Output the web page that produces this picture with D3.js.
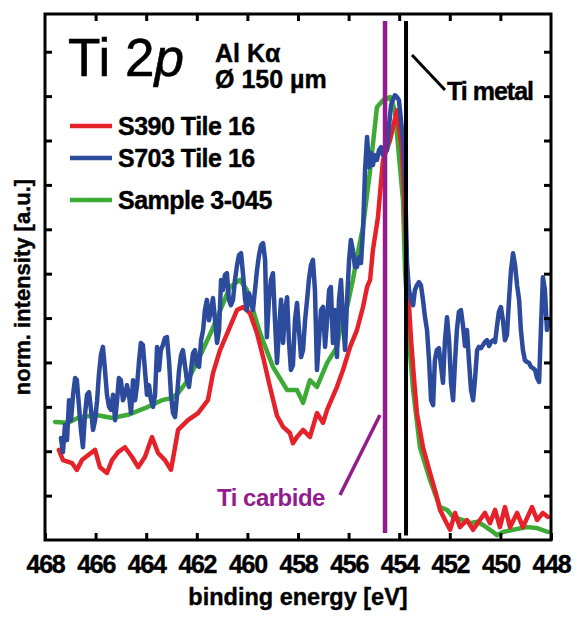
<!DOCTYPE html>
<html><head><meta charset="utf-8">
<script src="https://cdn.jsdelivr.net/npm/d3@7"></script>
<style>body{margin:0;background:#fff}svg text{font-family:"Liberation Sans",Arial,sans-serif}</style>
</head><body><svg id="c" width="585" height="619"></svg>
<script>
// ---------- data ----------
const xTickValues = [468,466,464,462,460,458,456,454,452,450,448];
const yTickValues = [1,2,3,4,5,6,7,8,9,10,11];
const seriesNames = ["S390 Tile 16","S703 Tile 16","Sample 3-045"];
const seriesColors = ["#e52229","#2d4b9c","#3caa35"];

const redEnergy = [467.45,467.29,466.93,466.74,466.54,466.30,466.02,465.83,465.55,465.35,465.11,464.84,464.56,464.32,464.05,463.77,463.53,463.26,463.02,462.86,462.74,462.35,461.95,461.56,461.36,461.08,460.69,460.41,460.17,459.90,459.62,459.38,459.11,458.83,458.59,458.32,458.20,458.04,457.80,457.53,457.25,457.01,456.85,456.46,456.22,455.94,455.67,455.43,455.27,455.15,455.04,454.84,454.64,454.36,454.09,453.89,453.77,453.65,453.53,453.41,453.30,453.06,452.78,452.51,452.39,452.19,451.99,451.79,451.60,451.32,451.08,450.81,450.61,450.41,450.21,450.02,449.82,449.62,449.34,449.11,448.75,448.55,448.32,448.12];
const redIntensity = [2.03,1.80,1.73,1.58,1.80,1.91,2.03,1.64,1.51,1.80,1.98,2.09,1.87,1.64,1.87,2.32,1.96,1.80,1.58,2.09,2.48,2.70,2.86,3.15,3.76,4.28,4.80,5.18,5.25,5.11,4.66,4.12,3.45,2.80,2.55,2.41,2.18,2.32,2.48,2.32,2.86,2.64,2.93,3.45,3.83,4.35,4.73,5.25,5.70,5.86,6.53,7.27,8.56,9.01,9.68,8.78,7.20,5.63,4.50,3.60,2.86,2.09,1.51,0.97,0.68,0.45,0.23,0.61,0.29,0.45,0.23,0.45,0.61,0.38,0.68,0.29,0.74,0.29,0.61,0.29,0.74,0.45,0.61,0.52];

const greenEnergy = [467.60,467.09,466.70,466.02,465.35,464.72,464.05,463.38,462.98,462.74,462.35,461.95,461.40,460.69,460.29,460.02,459.50,458.99,458.43,458.04,457.80,457.53,457.25,456.85,456.46,456.22,456.06,455.83,455.67,455.43,455.15,454.88,454.64,454.36,454.17,454.09,453.85,453.77,453.57,453.45,453.18,452.78,452.39,452.11,451.87,451.48,451.20,450.92,450.69,450.41,450.13,449.90,449.50,448.95,448.55,448.12];
const greenIntensity = [2.66,2.64,2.75,2.82,2.75,2.82,2.97,3.15,3.20,3.31,3.60,4.05,4.73,5.70,5.86,5.63,4.66,3.90,3.38,3.38,3.09,3.60,3.45,3.99,4.35,5.11,5.25,5.86,6.37,7.05,8.33,9.75,9.91,9.98,9.68,9.17,7.66,6.08,4.21,3.38,2.09,1.35,0.74,0.68,0.52,0.45,0.38,0.41,0.34,0.23,0.11,0.18,0.23,0.29,0.27,0.18];

const blueEnergy = [467.37,467.29,467.21,467.13,467.05,466.97,466.89,466.81,466.74,466.66,466.58,466.50,466.42,466.34,466.26,466.18,466.10,466.02,465.94,465.87,465.79,465.71,465.63,465.55,465.47,465.39,465.31,465.23,465.15,465.08,465.00,464.92,464.84,464.76,464.68,464.60,464.52,464.44,464.36,464.28,464.21,464.13,464.05,463.97,463.89,463.81,463.73,463.65,463.57,463.49,463.42,463.34,463.26,463.18,463.10,463.02,462.94,462.86,462.78,462.70,462.62,462.55,462.47,462.39,462.31,462.23,462.15,462.07,461.99,461.91,461.83,461.75,461.68,461.60,461.52,461.44,461.36,461.28,461.20,461.12,461.04,460.96,460.89,460.81,460.73,460.65,460.57,460.49,460.41,460.33,460.25,460.17,460.09,460.02,459.94,459.86,459.78,459.70,459.62,459.54,459.46,459.38,459.30,459.23,459.15,459.07,458.99,458.91,458.83,458.75,458.67,458.59,458.51,458.43,458.36,458.28,458.20,458.12,458.04,457.96,457.88,457.80,457.72,457.64,457.57,457.49,457.41,457.33,457.25,457.17,457.09,457.01,456.93,456.85,456.77,456.70,456.62,456.54,456.46,456.38,456.30,456.22,456.14,456.06,455.98,455.91,455.83,455.75,455.67,455.59,455.51,455.43,455.35,455.27,455.19,455.12,455.04,454.96,454.88,454.80,454.72,454.64,454.56,454.48,454.40,454.32,454.25,454.17,454.09,454.01,453.93,453.85,453.77,453.69,453.61,453.53,453.45,453.38,453.30,453.22,453.14,453.06,452.98,452.90,452.82,452.74,452.66,452.59,452.51,452.43,452.35,452.27,452.19,452.11,452.03,451.95,451.87,451.79,451.72,451.64,451.56,451.48,451.40,451.32,451.24,451.16,451.08,451.00,450.92,450.85,450.77,450.69,450.61,450.53,450.45,450.37,450.29,450.21,450.13,450.06,449.98,449.90,449.82,449.74,449.66,449.58,449.50,449.42,449.34,449.26,449.19,449.11,449.03,448.95,448.87,448.79,448.71,448.63,448.55,448.47,448.40,448.32,448.24,448.16,448.08];
const blueIntensity = [2.30,1.98,2.59,2.25,3.15,2.70,3.27,3.65,3.60,3.04,2.48,2.09,2.82,3.27,3.33,2.93,2.48,2.70,3.15,3.72,4.17,4.35,3.83,3.27,3.00,2.93,3.27,2.70,3.15,3.65,3.60,3.15,3.27,3.49,3.27,2.86,3.60,3.15,3.49,4.05,4.44,4.39,3.83,3.27,3.49,3.15,3.00,3.27,4.35,3.83,4.28,4.39,4.55,4.57,4.05,3.27,2.86,2.77,3.27,3.83,4.17,4.28,3.94,3.60,3.45,3.83,4.21,4.28,3.94,3.90,4.50,4.73,5.18,5.41,4.95,5.18,5.45,4.95,4.44,4.73,5.86,5.63,5.97,6.01,5.41,5.29,5.41,5.86,6.19,6.42,6.46,5.97,5.41,5.18,5.56,5.41,5.18,5.63,6.08,6.42,6.64,6.69,6.31,4.57,5.41,5.86,6.01,4.95,3.99,4.73,5.41,4.44,5.18,5.47,4.50,3.83,3.94,4.95,5.34,4.73,4.12,4.28,4.95,5.41,5.86,6.19,6.31,5.63,3.83,4.50,5.18,5.25,4.35,4.95,5.63,5.70,4.44,5.18,4.12,5.41,5.86,4.95,4.28,5.41,6.31,6.76,6.53,6.15,6.15,6.37,6.24,6.98,8.33,9.08,8.40,8.72,8.45,8.67,8.56,8.78,8.85,8.67,8.78,8.78,9.35,9.80,9.91,10.02,9.98,9.91,9.46,9.01,8.11,6.19,5.63,5.41,5.29,5.63,5.74,5.81,5.74,5.41,5.02,4.73,4.05,3.15,3.04,4.05,4.28,4.32,3.94,3.54,4.50,5.02,4.50,3.54,3.15,4.05,4.73,5.14,5.18,4.84,4.37,4.73,4.01,3.38,3.15,3.65,4.28,4.35,4.32,4.39,4.46,4.50,4.37,4.46,4.50,4.46,4.84,5.14,5.25,4.95,4.50,4.62,5.41,6.08,6.46,6.19,5.74,5.41,4.73,4.28,4.05,4.01,3.99,3.90,3.87,3.83,3.65,3.56,4.73,5.92,5.63,4.73,4.95];

// reference lines (binding energies) and annotation text
const tiCarbideEnergy = 454.56;
const tiMetalEnergy = 453.73;
const refLineRange = [0.16, 11.69];

// ---------- drawing ----------
const svg = d3.select("#c");
const L = 45, R = 551, T = 14, B = 540;
const x = d3.scaleLinear().domain([468,448]).range([L,R]);
const y = d3.scaleLinear().domain([0,11.85]).range([B,T]);

const zip = (e, v) => e.map((d,i) => [d, v[i]]);
const line = d3.line().x(d => x(d[0])).y(d => y(d[1]));

const g = svg.append("g");
const drawSeries = (data, color, w) => g.append("path").datum(data)
  .attr("d", line).attr("fill","none").attr("stroke",color)
  .attr("stroke-width",w).attr("stroke-linejoin","round").attr("stroke-linecap","round");

drawSeries(zip(greenEnergy, greenIntensity), seriesColors[2], 4.5);
drawSeries(zip(redEnergy, redIntensity), seriesColors[0], 4.5);
drawSeries(zip(blueEnergy, blueIntensity), seriesColors[1], 4.5);

// reference lines
g.append("line").attr("x1",x(tiCarbideEnergy)).attr("x2",x(tiCarbideEnergy))
  .attr("y1",y(refLineRange[0])).attr("y2",y(refLineRange[1]))
  .attr("stroke","#931c8d").attr("stroke-width",4.5);
g.append("line").attr("x1",x(tiMetalEnergy)).attr("x2",x(tiMetalEnergy))
  .attr("y1",y(0.1)).attr("y2",y(refLineRange[1]))
  .attr("stroke","#000").attr("stroke-width",4);

// axes
function styleAxis(sel){
  sel.select(".domain").remove();
  sel.selectAll(".tick line").attr("stroke","#000").attr("stroke-width",3);
}
svg.append("g").attr("transform",`translate(0,${B})`)
  .call(d3.axisBottom(x).tickValues(xTickValues).tickSizeInner(-7).tickSizeOuter(0).tickPadding(15).tickFormat(d3.format("d")))
  .call(styleAxis)
  .call(s => s.selectAll("text").attr("font-size",25).attr("font-weight","bold").attr("fill","#000")
    .attr("font-family","Liberation Sans, Arial, sans-serif").attr("letter-spacing","-1.3px")
    .attr("stroke","#000").attr("stroke-width",0.4));
svg.append("g").attr("transform",`translate(0,${T})`)
  .call(d3.axisTop(x).tickValues(xTickValues.slice(1,-1)).tickSizeInner(-7).tickSizeOuter(0).tickFormat(""))
  .call(styleAxis);
svg.append("g").attr("transform",`translate(${L},0)`)
  .call(d3.axisLeft(y).tickValues(yTickValues).tickSizeInner(-7).tickSizeOuter(0).tickFormat(""))
  .call(styleAxis);
svg.append("g").attr("transform",`translate(${R},0)`)
  .call(d3.axisRight(y).tickValues(yTickValues).tickSizeInner(-7).tickSizeOuter(0).tickFormat(""))
  .call(styleAxis);

svg.append("rect").attr("x",L).attr("y",T).attr("width",R-L).attr("height",B-T)
  .attr("fill","none").attr("stroke","#000").attr("stroke-width",3);

// axis titles
svg.append("text").attr("x",(L+R)/2).attr("y",605).attr("text-anchor","middle")
  .attr("font-size",23.5).attr("font-weight","bold").attr("stroke","#000").attr("stroke-width",0.4)
  .text("binding energy [eV]");
svg.append("text").attr("transform",`translate(30,${(T+B)/2+10}) rotate(-90)`).attr("text-anchor","middle")
  .attr("font-size",22).attr("font-weight","bold").attr("stroke","#000").attr("stroke-width",0.4)
  .text("norm. intensity [a.u.]");

// title block
const title = svg.append("text").attr("x",68).attr("y",76).attr("font-size",53).attr("stroke","#000").attr("stroke-width",0.6);
title.append("tspan").text("Ti 2");
title.append("tspan").attr("font-style","italic").text("p");
svg.append("text").attr("x",215).attr("y",62).attr("font-size",25).attr("font-weight","bold").attr("stroke","#000").attr("stroke-width",0.4).text("Al K\u03B1");
svg.append("text").attr("x",215).attr("y",88).attr("font-size",25).attr("font-weight","bold").attr("stroke","#000").attr("stroke-width",0.4).text("\u00D8 150 \u00B5m");

// legend
const legY = [126, 158, 200];
const legOrder = [0,1,2];
legOrder.forEach((k,i) => {
  svg.append("line").attr("x1",70).attr("x2",112).attr("y1",legY[i]).attr("y2",legY[i])
    .attr("stroke",seriesColors[k]).attr("stroke-width",4.5);
  svg.append("text").attr("x",118).attr("y",legY[i]+9).attr("font-size",25).attr("font-weight","bold")
    .attr("letter-spacing","-0.5px").attr("stroke","#000").attr("stroke-width",0.4).text(seriesNames[k]);
});

// annotations
svg.append("line").attr("x1",412).attr("y1",55).attr("x2",445).attr("y2",90)
  .attr("stroke","#000").attr("stroke-width",3);
svg.append("text").attr("x",447).attr("y",100).attr("font-size",25).attr("font-weight","bold")
  .attr("letter-spacing","-1px").attr("stroke","#000").attr("stroke-width",0.4).text("Ti metal");
svg.append("line").attr("x1",380).attr("y1",415).attr("x2",340).attr("y2",495)
  .attr("stroke","#931c8d").attr("stroke-width",3.5);
svg.append("text").attr("x",217).attr("y",506).attr("font-size",24).attr("font-weight","bold")
  .attr("fill","#931c8d").attr("letter-spacing","-0.5px").text("Ti carbide");
</script>
</body></html>
